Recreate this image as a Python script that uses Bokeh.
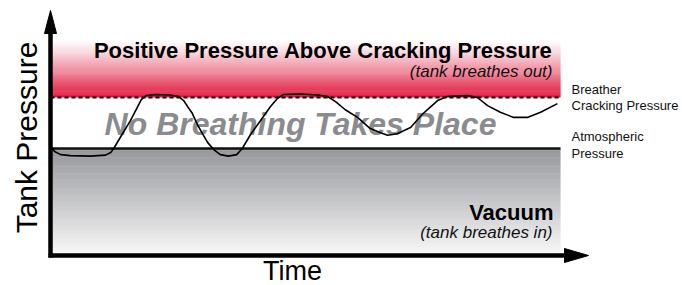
import numpy as np
from bokeh.plotting import figure
from bokeh.models import Range1d
from bokeh.core.properties import value
from bokeh.embed import file_html
from bokeh.resources import INLINE

# ---- data (time 0..100, pressure: atmospheric = 0, breather cracking = 1) ----
time = [0.2, 0.8, 2.0, 3.9, 7.8, 10.8, 11.8, 12.4, 13.7, 15.7, 17.1, 17.8, 18.8,
        20.6, 23.5, 25.1, 26.1, 26.9, 27.8, 28.8, 29.8, 30.8, 32.0, 33.3, 34.9,
        36.5, 37.6, 39.2, 41.2, 43.1, 44.5, 45.7, 49.0, 52.5, 54.3, 55.9, 57.8,
        60.2, 62.7, 64.7, 66.1, 68.0, 70.6, 73.1, 75.9, 77.8, 81.8, 83.7, 85.7,
        88.2, 90.8, 93.5, 96.1, 99.4]
pressure = [0.02, -0.06, -0.12, -0.14, -0.15, -0.13, -0.08, 0.0, 0.22, 0.55, 0.82,
            0.96, 1.04, 1.06, 1.05, 1.02, 0.94, 0.82, 0.69, 0.47, 0.29, 0.12, -0.02,
            -0.12, -0.15, -0.12, 0.0, 0.27, 0.55, 0.82, 0.98, 1.06, 1.07, 1.05, 1.02,
            0.92, 0.76, 0.61, 0.39, 0.31, 0.26, 0.29, 0.41, 0.69, 0.94, 1.02, 1.04,
            1.00, 0.84, 0.71, 0.61, 0.61, 0.71, 0.88]
atmospheric = 0.0
cracking = 1.0
zone_top = 2.12
zone_bottom = -2.08
t_start, t_end = 0.0, 100.0

zone_titles = ["Positive Pressure Above Cracking Pressure", "Vacuum"]
zone_notes = ["(tank breathes out)", "(tank breathes in)"]
middle_label = "No Breathing Takes Place"
level_labels = ["Breather", "Cracking Pressure", "Atmospheric", "Pressure"]
y_label = "Tank Pressure"
x_label = "Time"

# ---- layout: pixel scale of the frame ----
W, H = 682, 285
PX_X = 5.1    # px per time unit
PX_Y = 51.0   # px per pressure unit
ORIG_X, ORIG_Y = 50.0, 148.0   # pixel position of time 0 / pressure 0

def dx(px):
    return (px - ORIG_X) / PX_X

def dy(py):
    return (ORIG_Y - py) / PX_Y

p = figure(width=W, height=H, x_range=Range1d(dx(0), dx(W)), y_range=Range1d(dy(H), dy(0)),
           output_backend="svg", toolbar_location=None, min_border=0,
           x_axis_type=None, y_axis_type=None, outline_line_color=None,
           background_fill_color="white", border_fill_color="white")

FONT = value("Liberation Sans")

# red gradient band (white at top -> red at cracking pressure)
n = 60
edges = np.linspace(zone_top, cracking, n + 1)
red = np.array([226, 24, 62])
cols = []
for i in range(n):
    t = ((i + 0.5) / n) ** 1.15
    c = (255 + (red - 255) * t).astype(int)
    cols.append("#%02x%02x%02x" % tuple(c))
p.quad(left=t_start, right=t_end, top=edges[:-1] + 0.01, bottom=edges[1:], fill_color=cols,
       line_color=None)

# gray gradient band (dark at atmospheric -> light at bottom)
edges = np.linspace(atmospheric, zone_bottom, n + 1)
g0 = np.array([150, 151, 156])
g1 = np.array([248, 248, 248])
cols = []
for i in range(n):
    t = (i + 0.5) / n
    c = (g0 + (g1 - g0) * t).astype(int)
    cols.append("#%02x%02x%02x" % tuple(c))
p.quad(left=t_start, right=t_end, top=edges[:-1], bottom=edges[1:] - 0.01, fill_color=cols,
       line_color=None)

# reference levels
p.line([t_start, t_end], [cracking, cracking], line_color="black", line_width=2, line_dash="4 3")
p.line([t_start, t_end], [atmospheric, atmospheric], line_color="#111111", line_width=2.5)

# zone texts
p.text(x=[dx(552)], y=[dy(50)], text=[zone_titles[0]], text_font=FONT, text_font_size="22px",
       text_font_style="bold", text_align="right", text_baseline="alphabetic", text_color="black")
p.text(x=[dx(552)], y=[dy(70.5)], text=[zone_notes[0]], text_font=FONT, text_font_size="17px",
       text_font_style="italic", text_align="right", text_baseline="alphabetic", text_color="#111111")
p.text(x=[dx(553)], y=[dy(212)], text=[zone_titles[1]], text_font=FONT, text_font_size="22px",
       text_font_style="bold", text_align="right", text_baseline="alphabetic", text_color="black")
p.text(x=[dx(552)], y=[dy(231.5)], text=[zone_notes[1]], text_font=FONT, text_font_size="17px",
       text_font_style="italic", text_align="right", text_baseline="alphabetic", text_color="#111111")
p.text(x=[dx(300)], y=[dy(123)], text=[middle_label], text_font=FONT, text_font_size="32px",
       text_font_style="bold italic", text_align="center", text_baseline="alphabetic",
       text_color="#8a8b8f")

# level labels at right
for lbl, py in zip(level_labels, [88.5, 104.5, 135.5, 152.5]):
    p.text(x=[dx(571)], y=[dy(py)], text=[lbl], text_font=FONT, text_font_size="13px",
           text_align="left", text_baseline="alphabetic", text_color="#111111")

# pressure curve
p.line(time, pressure, line_color="black", line_width=1.6)

# axes with arrows
p.line([dx(50), dx(50)], [dy(257), dy(30)], line_color="black", line_width=4.5)
p.patch([dx(44), dx(50), dx(56)], [dy(33), dy(10), dy(33)], fill_color="black", line_color="black")
p.line([dx(48), dx(566)], [dy(255), dy(255)], line_color="black", line_width=4.5)
p.patch([dx(564), dx(588), dx(564)], [dy(248), dy(255), dy(262)], fill_color="black",
        line_color="black")

# axis titles
p.text(x=[dx(26)], y=[dy(137)], text=[y_label], text_font=FONT, text_font_size="30px",
       angle=np.pi / 2, text_align="center", text_baseline="alphabetic", text_color="black")
p.text(x=[dx(292)], y=[dy(270)], text=[x_label], text_font=FONT, text_font_size="27px",
       text_align="center", text_baseline="alphabetic", text_color="black")

open("out.html", "w").write(file_html(p, INLINE))
